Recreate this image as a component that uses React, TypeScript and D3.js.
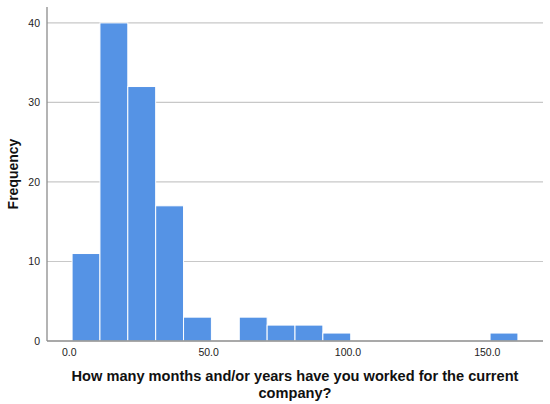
import React from "react";
import * as d3 from "d3";

const binStarts = [1, 11, 21, 31, 41, 51, 61, 71, 81, 91, 101, 111, 121, 131, 141, 151];
const binWidth = 10;
const frequencies = [11, 40, 32, 17, 3, 0, 3, 2, 2, 1, 0, 0, 0, 0, 0, 1];
const xTicks = [0, 50, 100, 150];
const yTicks = [0, 10, 20, 30, 40];
const xTitleLines = ["How many months and/or years have you worked for the current", "company?"];
const yTitle = "Frequency";

const W = 550;
const H = 404;
const left = 47;
const right = 543;
const top = 7;
const bottom = 341;

export default function App() {
  const x = d3.scaleLinear().domain([-8, 170]).range([left, right]);
  const y = d3.scaleLinear().domain([0, 42]).range([bottom, top]);
  const font = "'Liberation Sans', Arial, sans-serif";
  return (
    <svg width={W} height={H} style={{ position: "absolute", left: 0, top: 0 }}>
      <rect x={0} y={0} width={W} height={H} fill="#fff" />
      {yTicks.filter((t) => t > 0).map((t) => (
        <line key={t} x1={left} x2={right} y1={y(t)} y2={y(t)} stroke="#c8c8c8" strokeWidth={1.2} />
      ))}
      {frequencies.map((f, i) =>
        f > 0 ? (
          <rect
            key={i}
            x={x(binStarts[i])}
            y={y(f)}
            width={x(binStarts[i] + binWidth) - x(binStarts[i])}
            height={y(0) - y(f)}
            fill="#5593e5"
            stroke="#ffffff"
            strokeWidth={1}
          />
        ) : null
      )}
      <line x1={left} x2={left} y1={top} y2={bottom} stroke="#8c8c8c" strokeWidth={1.3} />
      <line x1={left} x2={right} y1={bottom} y2={bottom} stroke="#8c8c8c" strokeWidth={1.3} />
      {yTicks.map((t) => (
        <text key={t} x={40} y={y(t)} dy="0.35em" textAnchor="end" fontFamily={font} fontSize={10.5} fill="#222">
          {t}
        </text>
      ))}
      {xTicks.map((t) => (
        <text key={t} x={x(t)} y={356} textAnchor="middle" fontFamily={font} fontSize={10.5} fill="#222">
          {t.toFixed(1)}
        </text>
      ))}
      <text
        transform={`translate(18,${(top + bottom) / 2}) rotate(-90)`}
        textAnchor="middle"
        fontFamily={font}
        fontSize={14}
        fontWeight="bold"
        fill="#111"
      >
        {yTitle}
      </text>
      {xTitleLines.map((l, i) => (
        <text
          key={i}
          x={(left + right) / 2}
          y={381 + i * 17}
          textAnchor="middle"
          fontFamily={font}
          fontSize={14.6}
          fontWeight="bold"
          fill="#111"
        >
          {l}
        </text>
      ))}
    </svg>
  );
}
